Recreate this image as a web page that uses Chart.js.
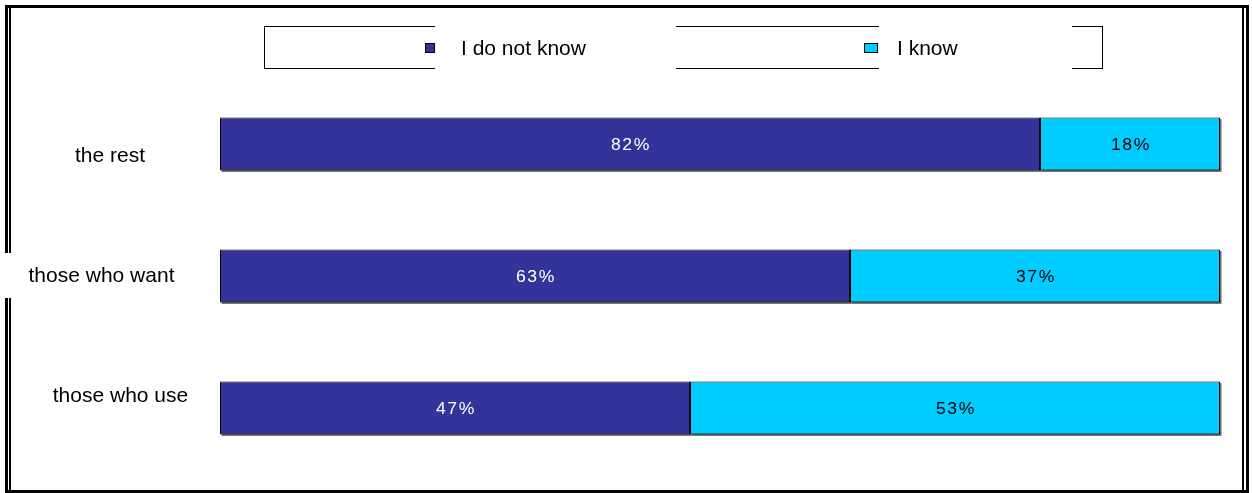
<!DOCTYPE html>
<html>
<head>
<meta charset="utf-8">
<script src="https://cdn.jsdelivr.net/npm/chart.js@4/dist/chart.umd.min.js"></script>
<style>
    html, body { margin: 0; padding: 0; background: #fff; }
    canvas { display: block; }
</style>
</head>
<body>
<canvas id="bar-plot" width="1252" height="493"></canvas>
<script>
const groups = ['the rest', 'those who want', 'those who use'];
const seriesNames = ['I do not know', 'I know'];
const dontKnow = [82, 63, 47];
const know = [18, 37, 53];

const DARK = '#333399';
const LIGHT = '#00CCFF';

// white page with the double-ruled frame around the chart
const framePlugin = {
    id: 'frame',
    beforeDraw(chart) {
        let ctx = chart.ctx;
        ctx.save();
        ctx.fillStyle = '#fff';
        ctx.fillRect(0, 0, chart.width, chart.height);
        ctx.fillStyle = '#000';
        ctx.fillRect(5, 5, 1244, 3);      // top
        ctx.fillRect(5, 5, 3, 488);       // left outer
        ctx.fillRect(9, 8, 2, 483);       // left inner
        ctx.fillRect(1246, 5, 3, 488);    // right outer
        ctx.fillRect(1242, 8, 2, 483);    // right inner
        ctx.fillRect(5, 490, 1244, 3);    // bottom
        ctx.restore();
    }
};

// soft grey drop shadow under each bar segment
const shadowPlugin = {
    id: 'barShadow',
    beforeDatasetsDraw(chart) {
        let ctx = chart.ctx;
        ctx.save();
        ctx.fillStyle = '#6b6b6b';
        chart.data.datasets.forEach((ds, i) => {
            chart.getDatasetMeta(i).data.forEach(bar => {
                let left = Math.min(bar.x, bar.base);
                let right = Math.max(bar.x, bar.base);
                ctx.fillRect(left + 1.5, bar.y - bar.height / 2 + 1.5, right - left, bar.height);
            });
        });
        ctx.restore();
    }
};

// percentages written in the middle of each segment (slightly stretched type)
const valueLabels = {
    id: 'valueLabels',
    afterDatasetsDraw(chart) {
        let ctx = chart.ctx;
        let sx = 1.1;
        chart.data.datasets.forEach((ds, i) => {
            chart.getDatasetMeta(i).data.forEach((bar, j) => {
                let cx = (bar.x + bar.base) / 2;
                ctx.save();
                ctx.translate(cx + 1, bar.y + 5.5);
                ctx.scale(sx, 1);
                ctx.font = '16px "Liberation Sans", Arial, sans-serif';
                ctx.letterSpacing = '1.5px';
                ctx.textAlign = 'center';
                ctx.textBaseline = 'alphabetic';
                ctx.fillStyle = i === 0 ? '#fff' : '#000';
                ctx.fillText(ds.data[j] + '%', 0, 0);
                ctx.restore();
            });
        });
    }
};

// category names to the left of the bars, each on its own white patch
const groupLabels = {
    id: 'groupLabels',
    afterDraw(chart) {
        let ctx = chart.ctx;
        let yScale = chart.scales.y;
        let place = [
            { x: 110, dy: 18 },
            { x: 101.5, dy: 6 },
            { x: 120.5, dy: -6 }
        ];
        ctx.save();
        ctx.font = '21px "Liberation Sans", Arial, sans-serif';
        ctx.textAlign = 'center';
        ctx.textBaseline = 'alphabetic';
        chart.data.labels.forEach((label, i) => {
            let yc = yScale.getPixelForTick(i);
            let w = ctx.measureText(label).width;
            let p = place[i];
            ctx.fillStyle = '#fff';
            ctx.fillRect(p.x - w / 2 - 24, yc + p.dy - 29, w + 48, 45);
            ctx.fillStyle = '#000';
            ctx.fillText(label, p.x, yc + p.dy);
        });
        ctx.restore();
    }
};

// boxed legend across the top
const legendBox = {
    id: 'legendBox',
    afterDraw(chart) {
        let ctx = chart.ctx;
        let items = [
            { marker: [425, 43, 10, 10], textX: 461, patch: [435, 676] },
            { marker: [864, 43, 14, 10], textX: 897, patch: [879, 1072] }
        ];
        ctx.save();
        ctx.strokeStyle = '#000';
        ctx.lineWidth = 1;
        ctx.strokeRect(264.5, 26.5, 838, 42);
        ctx.font = '21px "Liberation Sans", Arial, sans-serif';
        ctx.textBaseline = 'alphabetic';
        chart.data.datasets.forEach((ds, i) => {
            let it = items[i];
            ctx.fillStyle = '#fff';
            ctx.fillRect(it.patch[0], 24, it.patch[1] - it.patch[0], 48);
            let m = it.marker;
            ctx.fillStyle = ds.backgroundColor;
            ctx.fillRect(m[0], m[1], m[2], m[3]);
            ctx.strokeRect(m[0] + 0.5, m[1] + 0.5, m[2] - 1, m[3] - 1);
            ctx.fillStyle = '#000';
            ctx.fillText(ds.label, it.textX, 55);
        });
        ctx.restore();
    }
};

let chart = document.getElementById('bar-plot').getContext('2d');
new Chart(chart, {
    type: 'bar',
    data: {
        labels: groups,
        datasets: [{
            label: seriesNames[0],
            data: dontKnow,
            backgroundColor: DARK,
            borderColor: '#000',
            borderWidth: 1,
            borderSkipped: false
        }, {
            label: seriesNames[1],
            data: know,
            backgroundColor: LIGHT,
            borderColor: '#000',
            borderWidth: 1,
            borderSkipped: false
        }]
    },
    options: {
        indexAxis: 'y',
        responsive: false,
        animation: false,
        devicePixelRatio: 1,
        layout: {
            padding: { left: 220, right: 32, top: 78, bottom: 19 }
        },
        categoryPercentage: 1,
        barPercentage: 0.4,
        scales: {
            x: { stacked: true, min: 0, max: 100, display: false },
            y: { stacked: true, display: false }
        },
        plugins: {
            legend: { display: false },
            tooltip: { enabled: false }
        }
    },
    plugins: [framePlugin, shadowPlugin, valueLabels, groupLabels, legendBox]
});
</script>
</body>
</html>
